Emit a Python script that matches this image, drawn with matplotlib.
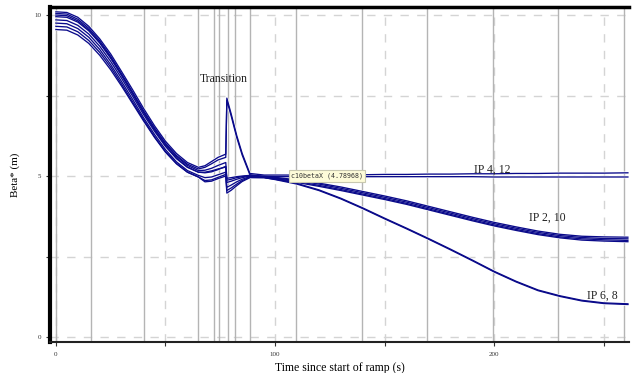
import matplotlib
matplotlib.use("Agg")
import matplotlib.pyplot as plt

plt.rcParams['font.family'] = ['Liberation Serif', 'DejaVu Serif']

# ---- data ----
time_s = [0, 5, 10, 15, 20, 25, 30, 35, 40, 45, 50, 55, 60, 65, 68, 71, 74, 77.5,
          78, 80, 82.5, 85, 88.5, 95, 100, 110, 120, 130, 140, 150, 160, 170,
          180, 190, 200, 210, 220, 230, 240, 250, 261]

ip4_x = [10.10, 10.08, 9.93, 9.65, 9.26, 8.79, 8.24, 7.68, 7.10, 6.56, 6.08, 5.70, 5.42, 5.27,
         5.32, 5.45, 5.58, 5.68, 7.42, 6.92, 6.26, 5.70, 5.08,
         5.03, 5.03, 5.03, 5.03, 5.04, 5.04, 5.05, 5.05, 5.06, 5.06, 5.07, 5.07, 5.08, 5.08, 5.09, 5.09, 5.09, 5.10]
ip4_y = [9.95, 9.93, 9.78, 9.51, 9.13, 8.66, 8.13, 7.58, 7.01, 6.49, 6.02, 5.64, 5.37, 5.22,
         5.27, 5.38, 5.50, 5.58, 7.35, 6.86, 6.20, 5.65, 5.04,
         4.99, 4.98, 4.98, 4.98, 4.98, 4.98, 4.98, 4.98, 4.98, 4.98, 4.98, 4.97, 4.97, 4.97, 4.97, 4.97, 4.97, 4.97]
ip2_x = [10.05, 10.03, 9.87, 9.59, 9.20, 8.72, 8.17, 7.60, 7.02, 6.48, 5.99, 5.61, 5.33, 5.17,
         5.18, 5.24, 5.33, 5.42, 4.93, 4.95, 4.98, 5.00, 5.02,
         4.99, 4.96, 4.88, 4.78, 4.66, 4.52, 4.38, 4.23, 4.06, 3.89, 3.72, 3.56, 3.42, 3.29, 3.19, 3.13, 3.11, 3.10]
ip2_y = [9.85, 9.83, 9.68, 9.41, 9.03, 8.56, 8.03, 7.48, 6.91, 6.39, 5.92, 5.54, 5.27, 5.12,
         5.12, 5.16, 5.22, 5.28, 4.80, 4.84, 4.90, 4.95, 5.00,
         4.98, 4.94, 4.86, 4.75, 4.62, 4.48, 4.34, 4.19, 4.02, 3.85, 3.68, 3.52, 3.38, 3.25, 3.15, 3.09, 3.06, 3.05]
ip10_x = [9.75, 9.73, 9.58, 9.31, 8.93, 8.46, 7.93, 7.38, 6.81, 6.29, 5.82, 5.44, 5.17, 5.02,
          4.95, 4.97, 5.04, 5.12, 4.65, 4.72, 4.82, 4.90, 4.98,
          4.96, 4.92, 4.83, 4.71, 4.58, 4.44, 4.30, 4.15, 3.98, 3.81, 3.64, 3.48, 3.34, 3.21, 3.11, 3.05, 3.02, 3.00]
ip10_y = [9.65, 9.63, 9.48, 9.21, 8.84, 8.38, 7.85, 7.30, 6.75, 6.22, 5.76, 5.39, 5.12, 4.97,
          4.86, 4.88, 4.96, 5.05, 4.55, 4.63, 4.75, 4.86, 4.96,
          4.95, 4.90, 4.80, 4.68, 4.55, 4.41, 4.27, 4.12, 3.95, 3.78, 3.61, 3.45, 3.31, 3.18, 3.08, 3.01, 2.98, 2.96]
ip6_x = [10.00, 9.98, 9.82, 9.54, 9.15, 8.67, 8.12, 7.55, 6.97, 6.43, 5.94, 5.56, 5.28, 5.12,
         5.10, 5.13, 5.20, 5.30, 4.87, 4.90, 4.95, 4.98, 5.02,
         4.96, 4.91, 4.77, 4.57, 4.31, 4.01, 3.69, 3.38, 3.06, 2.73, 2.39, 2.04, 1.73, 1.46, 1.28, 1.14, 1.06, 1.03]
ip6_y = [9.55, 9.53, 9.38, 9.12, 8.75, 8.30, 7.79, 7.25, 6.71, 6.20, 5.74, 5.38, 5.12, 4.97,
         4.82, 4.84, 4.92, 5.00, 4.47, 4.56, 4.70, 4.83, 4.95,
         4.95, 4.89, 4.75, 4.55, 4.29, 3.99, 3.67, 3.36, 3.04, 2.71, 2.37, 2.02, 1.71, 1.44, 1.26, 1.12, 1.04, 1.01]

series = [ip4_x, ip2_x, ip6_x, ip2_y, ip10_x, ip4_y, ip10_y, ip6_y]

marker_times = [0, 16, 40, 65, 72, 74.4, 78.5, 81.7, 88.6, 109.6, 139.7, 169.4, 199.5, 229, 259]

x_ticks = [0, 50, 100, 150, 200, 250]
x_labels = ['0', '', '100', '', '200', '']
y_ticks = [0, 2.5, 5, 7.5, 10]
y_labels = ['0', '', '5', '', '10']

labels = [("Transition", 76.7, 8.0), ("IP 4, 12", 199, 5.19),
          ("IP 2, 10", 224, 3.70), ("IP 6, 8", 249.5, 1.27)]
tooltip = ("c10betaX (4.78968)", 123.7, 5.0)

# ---- figure ----
fig = plt.figure(figsize=(6.35, 3.73), dpi=100)
ax = fig.add_axes([50/635, 1-342/373, 579/635, 335/373])
ax.set_xlim(-2.7, 261.5)
ax.set_ylim(-0.155, 10.25)

for yv in y_ticks:
    ax.axhline(yv, color='#d4d4d4', lw=1.0, ls=(0, (6, 6)), zorder=0)
for xv in x_ticks:
    ax.axvline(xv, color='#d4d4d4', lw=1.0, ls=(0, (6, 6)), zorder=0)
for tv in marker_times:
    ax.axvline(tv, color='#b4b4b4', lw=1.0, zorder=1)

for s in series:
    ax.plot(time_s, s, color='white', lw=1.9, zorder=2, solid_capstyle='butt')
    ax.plot(time_s, s, color='#0a0a8a', lw=0.95, zorder=3)

for txt, tx, ty in labels:
    ax.text(tx, ty, txt, ha='center', va='center', fontsize=8.5, color='#222222', zorder=5)

tt, tx, ty = tooltip
ax.text(tx, ty, tt, ha='center', va='center', fontsize=4.8, family='DejaVu Sans Mono',
        color='#333333', zorder=6,
        bbox=dict(boxstyle='square,pad=0.35', fc='#fdfbd9', ec='#c8c8b0', lw=0.8))

ax.set_xticks(x_ticks)
ax.set_xticklabels(x_labels)
ax.set_yticks(y_ticks)
ax.set_yticklabels(y_labels)
ax.tick_params(axis='both', labelsize=5, direction='out', length=3, width=0.8, colors='#333333')
ax.tick_params(axis='x', pad=4)

ax.spines['right'].set_visible(False)
ax.spines['left'].set_linewidth(3)
ax.spines['top'].set_linewidth(2.5)
ax.spines['bottom'].set_linewidth(1.5)
ax.spines['bottom'].set_color('#222222')

ax.set_xlabel("Time since start of ramp (s)", fontsize=8.5, labelpad=4)
ax.set_ylabel("Beta* (m)", fontsize=8, labelpad=10)

fig.savefig("out.png", dpi=100)
